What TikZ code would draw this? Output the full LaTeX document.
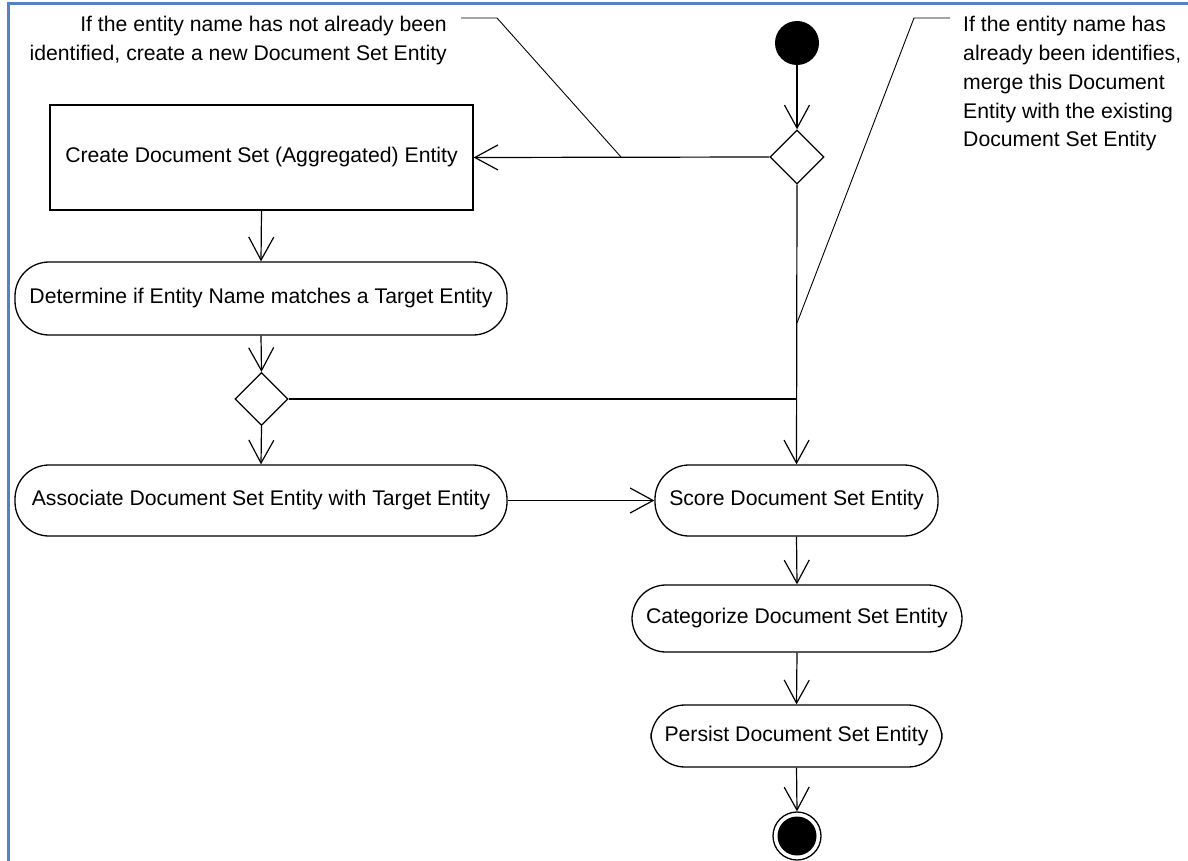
\documentclass[tikz,border=0pt]{standalone}
\usepackage{fontspec}
\setmainfont{Liberation Sans}
\usetikzlibrary{arrows.meta,shapes.geometric}

\definecolor{framecol}{RGB}{84,130,196}

\tikzset{
  flow/.style={line width=1.2pt, -{Straight Barb[length=23pt,width=25pt,line width=1.2pt]}},
  plain/.style={line width=1.2pt},
  leader/.style={line width=0.9pt},
  action/.style={draw, line width=1.3pt, rounded corners=34pt, align=center, inner sep=0pt},
  boxed/.style={draw, line width=1.3pt, align=center, inner sep=0pt},
  decision/.style={draw, diamond, line width=1.3pt, inner sep=0pt, minimum width=54pt, minimum height=54pt, fill=white},
  note/.style={inner sep=0pt},
}

\begin{document}
\begin{tikzpicture}[x=1pt,y=-1pt,font=\fontsize{21.2}{28.75}\selectfont]
\useasboundingbox (0,0) rectangle (1188,861);

% frame
\draw[framecol, line width=2.6pt] (8.5,861) -- (8.5,3.5) -- (1188,3.5);

% nodes
\node[circle, fill=black, minimum size=44pt, inner sep=0pt] (start) at (797,43) {};
\node[decision] (d1) at (797,157) {};
\node[boxed, minimum width=423pt, minimum height=105pt] (create) at (261.5,157.5)
  {Create Document Set (Aggregated) Entity};
\node[action, minimum width=492pt, minimum height=73pt] (determine) at (261,298.5)
  {Determine if Entity Name matches a Target Entity};
\node[decision, minimum width=53pt, minimum height=53pt] (d2) at (261.5,399) {};
\node[action, minimum width=492pt, minimum height=71pt] (assoc) at (261,500.5)
  {Associate Document Set Entity with Target Entity};
\node[action, minimum width=283pt, minimum height=71pt] (score) at (796.5,500.5)
  {Score Document Set Entity};
\node[action, minimum width=330pt, minimum height=67pt] (categ) at (797,618.5)
  {Categorize Document Set Entity};
\node[action, minimum width=291pt, minimum height=62pt] (persist) at (796.5,736)
  {Persist Document Set Entity};
\node[circle, draw, line width=1.3pt, minimum size=48pt, inner sep=0pt,
      path picture={\fill[black] (path picture bounding box.center) circle (19.5pt);}]
  (stop) at (797,836) {};

% notes
\node[note, anchor=base east] (noteL) at (447,32)
  {\begin{tabular}[t]{@{}r@{}}If the entity name has not already been\\identified, create a new Document Set Entity\end{tabular}};
\node[note, anchor=base west] (noteR) at (963,32)
  {\begin{tabular}[t]{@{}l@{}}If the entity name has\\already been identifies,\\merge this Document\\Entity with the existing\\Document Set Entity\end{tabular}};

% leader lines of the notes
\coordinate (l1) at (461,18);
\coordinate (l2) at (497,18);
\coordinate (lk) at (621,157);
\coordinate (r1) at (950,18);
\coordinate (r2) at (914,18);
\coordinate (rk) at (797,323);
\draw[leader] (l1) -- (l2) -- (lk);
\draw[leader] (r1) -- (r2) -- (rk);

% flow
\draw[flow] (start) -- (d1.north);
\draw[flow] (d1.west) -- (create.east);
\draw[flow] (create.south) -- (determine.north);
\draw[flow] (determine.south) -- (d2.north);
\draw[flow] (d2.south) -- (assoc.north);
\draw[plain] (d2.east) -- (d2.east -| score.north);
\draw[flow] (d1.south) -- (score.north);
\draw[flow] (assoc.east) -- (score.west);
\draw[flow] (score.south) -- (categ.north);
\draw[flow] (categ.south) -- (persist.north);
\draw[flow] (persist.south) -- (stop.north);
\end{tikzpicture}
\end{document}
